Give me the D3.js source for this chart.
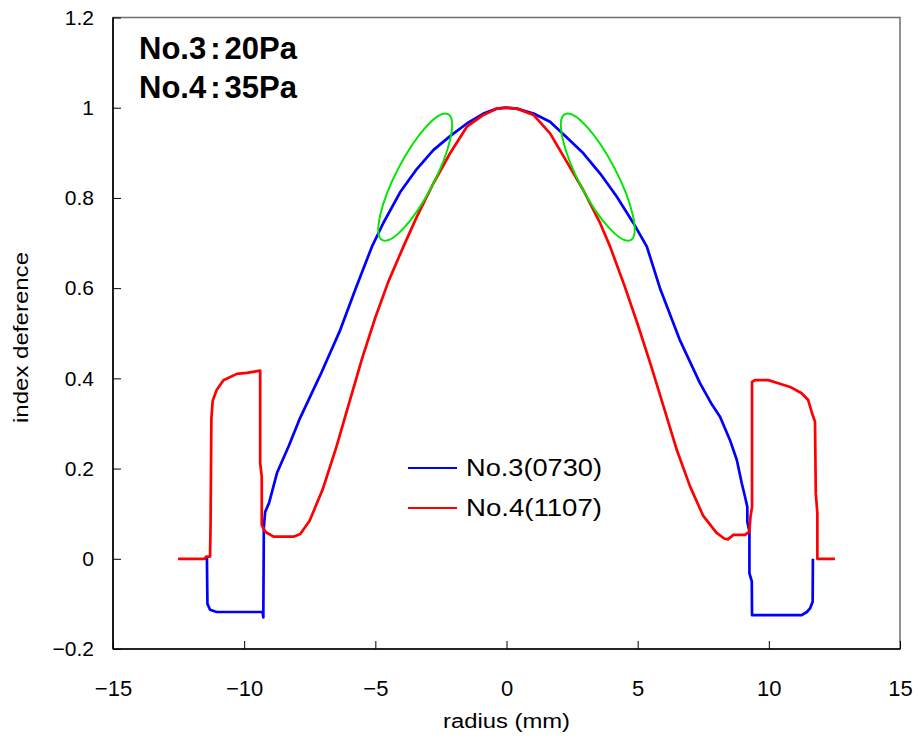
<!DOCTYPE html>
<html><head><meta charset="utf-8">
<script src="https://cdn.jsdelivr.net/npm/d3@7"></script>
<style>body{margin:0;background:#fff}svg{display:block}text{font-family:"Liberation Sans",Arial,sans-serif}</style>
</head><body>
<svg id="c" width="918" height="744"></svg>
<script>
// ---- data ----
const xTicks = [-15, -10, -5, 0, 5, 10, 15];
const yTicks = [-0.2, 0, 0.2, 0.4, 0.6, 0.8, 1, 1.2];
const seriesNames = ["No.3(0730)", "No.4(1107)"];
const seriesColors = ["#0000ff", "#ff0000"];
const titleLines = ["No.3", "20Pa", "No.4", "35Pa"];

const no3X = [-11.42,-11.40,-11.30,-11.05,-9.30,-9.27,-9.25,-9.20,-9.05,-8.75,-8.30,-7.87,-7.10,-6.34,-5.77,-5.13,-4.69,-4.05,-3.42,-2.79,-2.15,-1.51,-0.88,-0.37,0,0.40,1.03,1.66,2.30,2.93,3.57,4.20,4.84,5.35,5.85,6.60,7.37,7.80,8.14,8.52,8.78,8.97,9.09,9.18,9.18,9.26,9.26,9.35,9.36,11.25,11.45,11.57,11.67,11.68];
const no3Y = [0.003,-0.100,-0.113,-0.118,-0.118,-0.130,0.070,0.104,0.124,0.190,0.250,0.312,0.407,0.507,0.596,0.692,0.745,0.813,0.864,0.906,0.937,0.965,0.987,0.998,1.000,0.998,0.987,0.969,0.934,0.899,0.854,0.803,0.744,0.692,0.600,0.486,0.390,0.345,0.315,0.263,0.219,0.167,0.138,0.115,0.082,0.060,-0.032,-0.050,-0.125,-0.125,-0.118,-0.110,-0.095,0.0];

const no4X = [-12.52,-11.50,-11.45,-11.30,-11.28,-11.25,-11.20,-11.05,-10.79,-10.28,-9.90,-9.39,-9.39,-9.33,-9.33,-9.20,-8.88,-8.12,-7.86,-7.50,-7.00,-6.50,-6.00,-5.50,-5.00,-4.50,-3.93,-3.42,-2.79,-2.15,-1.51,-0.88,-0.37,0,0.40,1.03,1.66,2.30,2.93,3.57,3.95,4.50,5.00,5.50,6.00,6.50,7.00,7.50,8.00,8.30,8.44,8.65,9.09,9.26,9.30,9.36,9.36,9.47,9.98,10.36,10.81,11.25,11.50,11.63,11.76,11.79,11.85,11.85,12.52];
const no4Y = [0,0,0.005,0.005,0.080,0.310,0.350,0.374,0.396,0.410,0.412,0.417,0.212,0.182,0.075,0.060,0.049,0.049,0.055,0.085,0.155,0.245,0.345,0.445,0.535,0.615,0.692,0.758,0.832,0.899,0.958,0.984,0.998,1.000,0.998,0.984,0.943,0.880,0.817,0.744,0.692,0.605,0.520,0.430,0.335,0.240,0.160,0.095,0.058,0.045,0.043,0.053,0.053,0.060,0.093,0.115,0.392,0.396,0.396,0.389,0.381,0.367,0.352,0.326,0.304,0.145,0.101,0,0];

// annotation ellipses (centre in data units)
const ellipseCX = [-3.48, 3.48];
const ellipseCY = [0.846, 0.846];

// ---- drawing ----
const svg = d3.select("#c");
const L = 113, R = 900, T = 17.5, B = 649;
const x = d3.scaleLinear().domain([-15, 15]).range([L, R]);
const y = d3.scaleLinear().domain([-0.2, 1.2]).range([B, T]);

// frame
svg.append("rect").attr("x", L).attr("y", T).attr("width", R - L).attr("height", B - T)
  .attr("fill", "none").attr("stroke", "#6e6e6e").attr("stroke-width", 1.5);

// axes (ticks inward)
const fmt = d => (d === 0 ? "0" : d3.format("")(d)).replace("-", "\u2212");
const gx = svg.append("g").attr("transform", `translate(0,${B})`)
  .call(d3.axisBottom(x).tickValues(xTicks).tickSize(-8).tickPadding(30).tickFormat(fmt));
const gy = svg.append("g").attr("transform", `translate(${L},0)`)
  .call(d3.axisLeft(y).tickValues(yTicks).tickSize(-8).tickPadding(19).tickFormat(fmt));
[gx, gy].forEach(g => {
  g.select(".domain").attr("stroke", "#000").attr("stroke-width", 1.6);
  g.selectAll(".tick line").attr("stroke", "#000").attr("stroke-width", 1);
  g.selectAll(".tick text").attr("fill", "#000").attr("font-family", "'Liberation Sans',Arial,sans-serif");
});
gx.selectAll(".tick text").attr("font-size", 22).attr("dy", "0").attr("y", 47);
gy.selectAll(".tick text").attr("font-size", 21);
gx.select(".domain").attr("d", `M${L},0H${R}`);
gy.select(".domain").attr("d", `M0,${B}V${T}`);

// axis titles
svg.append("text").attr("x", 443).attr("y", 728)
  .attr("font-size", 20).attr("textLength", 127).attr("lengthAdjust", "spacingAndGlyphs").text("radius (mm)");
svg.append("text").attr("transform", "translate(28,423) rotate(-90)")
  .attr("font-size", 20).attr("textLength", 171).attr("lengthAdjust", "spacingAndGlyphs").text("index deference");

// series
const line = d3.line().x(d => x(d[0])).y(d => y(d[1])).curve(d3.curveLinear);
const s3 = no3X.map((v, i) => [v, no3Y[i]]);
const s4 = no4X.map((v, i) => [v, no4Y[i]]);
[s3, s4].forEach((s, i) => {
  svg.append("path").datum(s).attr("d", line).attr("fill", "none")
    .attr("stroke", seriesColors[i]).attr("stroke-width", 2.7).attr("stroke-linejoin", "round");
});

// ellipses
ellipseCX.forEach((cx, i) => {
  const px = x(cx), py = y(ellipseCY[i]);
  const ang = i === 0 ? -62.5 : 62.5;
  svg.append("ellipse").attr("cx", 0).attr("cy", 0).attr("rx", 71).attr("ry", 19)
    .attr("transform", `translate(${px},${py}) rotate(${ang})`)
    .attr("fill", "none").attr("stroke", "#00e600").attr("stroke-width", 2);
});

// legend
seriesNames.forEach((n, i) => {
  const ly = 468 + i * 40;
  svg.append("line").attr("x1", 408).attr("x2", 457).attr("y1", ly).attr("y2", ly)
    .attr("stroke", seriesColors[i]).attr("stroke-width", 2);
  svg.append("text").attr("x", 466).attr("y", ly + 8).attr("font-size", 23)
    .attr("textLength", 136).attr("lengthAdjust", "spacingAndGlyphs").text(n);
});

// title
[0, 1].forEach(i => {
  const t = svg.append("text").attr("x", 139).attr("y", 59 + i * 39).attr("font-size", 31)
    .attr("font-weight", "bold");
  t.append("tspan").text(titleLines[i * 2]);
  t.append("tspan").attr("dx", 4).text(":");
  t.append("tspan").attr("dx", 4).text(titleLines[i * 2 + 1]);
});
</script>
</body></html>
